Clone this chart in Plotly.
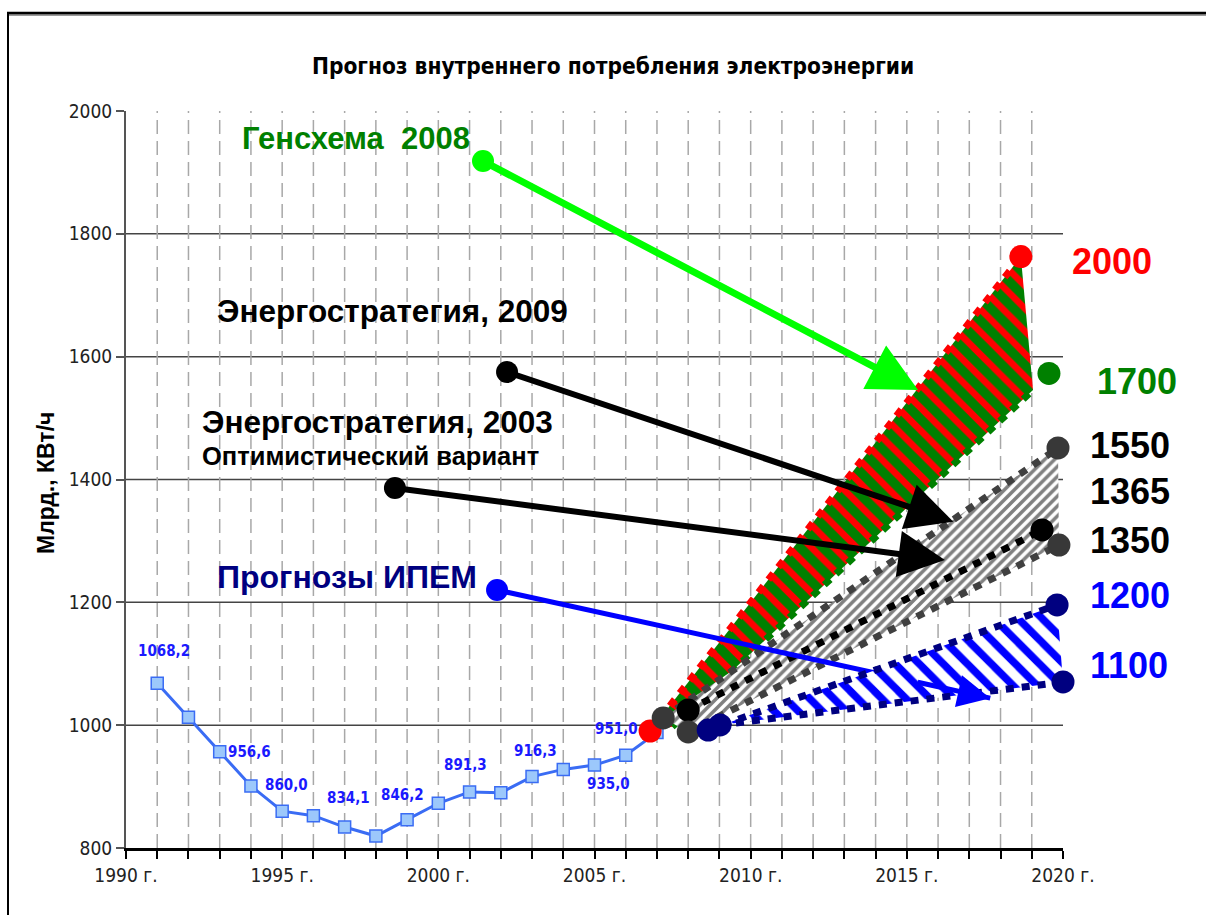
import plotly.graph_objects as go

# ---------------- data ----------------
hist_years = list(range(1991, 2008))
hist_values = [1068.2, 1012.8, 956.6, 901.0, 860.0, 852.6, 834.1, 819.5, 846.2,
               872.8, 891.3, 890.0, 916.3, 928.0, 935.0, 951.0, 988.0]
hist_labels = ["1068,2", "", "956,6", "", "860,0", "", "834,1", "", "846,2",
               "", "891,3", "", "916,3", "", "935,0", "951,0", ""]

# forecast fan: start year, start value, end year, end value
fc_names = ["red", "green", "gray_up", "black", "gray_low", "navy_up", "navy_low"]
fc_x0 = [2006.78, 2007.49, 2007.20, 2008.00, 2008.00, 2008.64, 2009.02]
fc_y0 = [990.5, 997.5, 1011.7, 1024.7, 988.9, 992.1, 1000.3]
fc_x1 = [2018.65, 2019.04, 2019.84, 2019.33, 2019.87, 2019.81, 2020.0]
fc_y1 = [1763.0, 1545.7, 1451.3, 1317.8, 1293.3, 1195.7, 1070.3]
green_end_x, green_end_y = 2019.55, 1572.7

end_labels = ["2000", "1700", "1550", "1365", "1350", "1200", "1100"]

# arrows: start (dot) -> tip
arrow_names = ["Генсхема 2008", "Энергостратегия 2009", "Энергостратегия 2003", "ИПЕМ"]
arrow_x0 = [2001.43, 2002.20, 1998.61, 2001.88]
arrow_y0 = [1918.6, 1575.0, 1386.2, 1220.1]
arrow_x1 = [2015.36, 2016.49, 2016.22, 2017.67]
arrow_y1 = [1545.7, 1331.3, 1268.9, 1044.0]

y_ticks = [800, 1000, 1200, 1400, 1600, 1800, 2000]

# ---------------- geometry helpers (pixel -> paper) ----------------
W, H = 1206, 915
L, T, PW, PH = 126, 111, 937, 737
R, B = W - L - PW, H - T - PH


def pxx(x):
    return (x - L) / PW


def pxy(y):
    return (T + PH - y) / PH


NARROW = "DejaVu Sans Condensed, Liberation Sans Narrow, Arial Narrow, sans-serif"
ARIAL = "Liberation Sans, Arial, sans-serif"

fig = go.Figure()

# historical series
fig.add_trace(go.Scatter(
    x=hist_years, y=hist_values, mode="lines+markers",
    line=dict(color="#3a6cf4", width=3),
    marker=dict(symbol="square", size=12, color="#9cc8fb",
                line=dict(color="#3a6cf4", width=1.5)),
    showlegend=False, hoverinfo="skip"))


def seg(i):
    return [fc_x0[i], fc_x1[i]], [fc_y0[i], fc_y1[i]]


def poly(a, b):
    xs = [fc_x0[a], fc_x1[a], fc_x1[b], fc_x0[b], fc_x0[a]]
    ys = [fc_y0[a], fc_y1[a], fc_y1[b], fc_y0[b], fc_y0[a]]
    return xs, ys


DOT = "8px,8px"

# red/green hatched area
xs, ys = poly(0, 1)
fig.add_trace(go.Scatter(x=xs, y=ys, mode="lines", fill="toself",
                         line=dict(width=0, color="rgba(0,0,0,0)"),
                         fillcolor="#008000",
                         fillpattern=dict(shape="\\", bgcolor="#008000", fgcolor="#ff0000",
                                          fgopacity=1, size=16, solidity=0.42),
                         showlegend=False, hoverinfo="skip"))
for i, col in [(0, "#ff0000"), (1, "#008000")]:
    sx, sy = seg(i)
    fig.add_trace(go.Scatter(x=sx, y=sy, mode="lines",
                             line=dict(color=col, width=7, dash=DOT),
                             showlegend=False, hoverinfo="skip"))

# gray hatched area
xs, ys = poly(2, 4)
fig.add_trace(go.Scatter(x=xs, y=ys, mode="lines", fill="toself",
                         line=dict(width=0, color="rgba(0,0,0,0)"),
                         fillcolor="white",
                         fillpattern=dict(shape="/", bgcolor="white", fgcolor="#808080",
                                          fgopacity=1, size=7, solidity=0.5),
                         showlegend=False, hoverinfo="skip"))
for i, col in [(2, "#404040"), (4, "#404040"), (3, "#000000")]:
    sx, sy = seg(i)
    fig.add_trace(go.Scatter(x=sx, y=sy, mode="lines",
                             line=dict(color=col, width=7, dash=DOT),
                             showlegend=False, hoverinfo="skip"))

# IPEM blue arrow line (under the blue hatched area)
fig.add_trace(go.Scatter(x=[arrow_x0[3], arrow_x1[3]], y=[arrow_y0[3], arrow_y1[3]],
                         mode="lines", line=dict(color="#0000ff", width=5),
                         showlegend=False, hoverinfo="skip"))

# blue hatched area
xs, ys = poly(5, 6)
fig.add_trace(go.Scatter(x=xs, y=ys, mode="lines", fill="toself",
                         line=dict(width=0, color="rgba(0,0,0,0)"),
                         fillcolor="white",
                         fillpattern=dict(shape="\\", bgcolor="white", fgcolor="#0000ff",
                                          fgopacity=1, size=17, solidity=0.45),
                         showlegend=False, hoverinfo="skip"))
for i in (5, 6):
    sx, sy = seg(i)
    fig.add_trace(go.Scatter(x=sx, y=sy, mode="lines",
                             line=dict(color="#000080", width=7, dash=DOT),
                             showlegend=False, hoverinfo="skip"))

# dots at fan start/end
start_cols = ["#ff0000", None, "#383838", "#000000", "#383838", "#000080", "#000080"]
end_cols = ["#ff0000", None, "#383838", "#000000", "#383838", "#000080", "#000080"]
dx, dy, dc = [], [], []
for i in range(len(fc_names)):
    if start_cols[i]:
        dx.append(fc_x0[i]); dy.append(fc_y0[i]); dc.append(start_cols[i])
    if end_cols[i]:
        dx.append(fc_x1[i]); dy.append(fc_y1[i]); dc.append(end_cols[i])
dx.append(green_end_x); dy.append(green_end_y); dc.append("#008000")
fig.add_trace(go.Scatter(x=dx, y=dy, mode="markers",
                         marker=dict(size=23, color=dc, line=dict(width=0)),
                         cliponaxis=False, showlegend=False, hoverinfo="skip"))

# arrow start dots
arrow_cols = ["#00ff00", "#000000", "#000000", "#0000ff"]
fig.add_trace(go.Scatter(x=arrow_x0, y=arrow_y0, mode="markers",
                         marker=dict(size=22, color=arrow_cols, line=dict(width=0)),
                         cliponaxis=False, showlegend=False, hoverinfo="skip"))

annotations = []
# arrows
arrow_widths = [7, 6, 6, 5]
arrow_sizes = [1.4, 1.55, 1.55, 1.3]
for i in range(4):
    if i == 3:
        tx = arrow_x0[i] + 0.85 * (arrow_x1[i] - arrow_x0[i])
        ty = arrow_y0[i] + 0.85 * (arrow_y1[i] - arrow_y0[i])
    else:
        tx, ty = arrow_x0[i], arrow_y0[i]
    annotations.append(dict(x=arrow_x1[i], y=arrow_y1[i], ax=tx, ay=ty,
                            xref="x", yref="y", axref="x", ayref="y",
                            text="", showarrow=True, arrowhead=2,
                            arrowsize=arrow_sizes[i], arrowwidth=arrow_widths[i],
                            arrowcolor=arrow_cols[i], standoff=0, startstandoff=0))

# data labels on the historical series
label_shift = {0: (7, 32), 2: (30, 0), 4: (4, 26), 6: (4, 29), 8: (-5, 25),
               10: (-4, 27), 12: (3, 26), 14: (14, -19), 15: (-9, 26)}
for i, txt in enumerate(hist_labels):
    if txt:
        sx, sy = label_shift[i]
        annotations.append(dict(x=hist_years[i], y=hist_values[i], xref="x", yref="y",
                                text="<b>%s</b>" % txt, showarrow=False, xshift=sx, yshift=sy,
                                font=dict(family=NARROW, size=15, color="#1a1aff"),
                                xanchor="center", yanchor="middle"))

# end labels of forecasts
end_label_px = [(1070, 261), (1095, 381), (1088, 445), (1088, 491), (1088, 540), (1088, 595), (1088, 665)]
end_label_cols = ["#ff0000", "#008000", "#000000", "#000000", "#000000", "#0000ff", "#0000ff"]
for txt, (lx, ly), col in zip(end_labels, end_label_px, end_label_cols):
    annotations.append(dict(x=pxx(lx), y=pxy(ly), xref="paper", yref="paper",
                            text="<b>%s</b>" % txt, showarrow=False,
                            xanchor="left", yanchor="middle",
                            font=dict(family=ARIAL, size=36, color=col)))

# left captions
captions = [
    ("Генсхема \u00a02008", 240, 138, 31, "#008000"),
    ("Энергостратегия, 2009", 215, 311, 31.5, "#000000"),
    ("Энергостратегия, 2003", 200, 422, 31.5, "#000000"),
    ("Оптимистический вариант", 200, 456, 25.5, "#000000"),
    ("Прогнозы ИПЕМ", 215, 577, 32, "#000080"),
]
for txt, lx, ly, sz, col in captions:
    annotations.append(dict(x=pxx(lx), y=pxy(ly), xref="paper", yref="paper",
                            text="<b>%s</b>" % txt, showarrow=False,
                            xanchor="left", yanchor="middle",
                            font=dict(family=ARIAL, size=sz, color=col)))

# title
annotations.append(dict(x=pxx(613), y=pxy(66), xref="paper", yref="paper",
                        text="<b>Прогноз внутреннего потребления электроэнергии</b>",
                        showarrow=False, xanchor="center", yanchor="middle",
                        font=dict(family=NARROW, size=22.5, color="#000000")))
# y-axis title
annotations.append(dict(x=pxx(46), y=pxy(483), xref="paper", yref="paper",
                        text="<b>Млрд., КВт/ч</b>", showarrow=False, textangle=-90,
                        xanchor="center", yanchor="middle",
                        font=dict(family=ARIAL, size=23, color="#000000")))

# grid lines and frame as shapes
shapes = []
for yr in range(1991, 2020):
    shapes.append(dict(type="line", xref="x", yref="y", x0=yr, x1=yr, y0=800, y1=2000,
                       line=dict(color="#a8a8a8", width=1.5, dash="14px,7px"), layer="below"))
for v in y_ticks[1:-1]:
    shapes.append(dict(type="line", xref="paper", yref="y", x0=0, x1=1, y0=v, y1=v,
                       line=dict(color="#444444", width=1.5), layer="below"))
# outer frame (top and left)
shapes.append(dict(type="line", xref="paper", yref="paper", x0=pxx(7), x1=pxx(1210),
                   y0=pxy(15), y1=pxy(15), line=dict(color="#9a9a9a", width=2)))
shapes.append(dict(type="line", xref="paper", yref="paper", x0=pxx(7), x1=pxx(1210),
                   y0=pxy(13), y1=pxy(13), line=dict(color="#000000", width=2.5)))
shapes.append(dict(type="line", xref="paper", yref="paper", x0=pxx(8), x1=pxx(8),
                   y0=pxy(12), y1=pxy(920), line=dict(color="#000000", width=2)))

fig.update_layout(
    width=W, height=H,
    margin=dict(l=L, r=R, t=T, b=B, pad=0),
    paper_bgcolor="white", plot_bgcolor="white",
    showlegend=False,
    annotations=annotations,
    shapes=shapes,
    xaxis=dict(range=[1990, 2020], tickmode="linear", tick0=1990, dtick=5,
               ticksuffix=" г.", showgrid=False, zeroline=False,
               showline=True, linecolor="#000000", linewidth=2.5,
               ticks="outside", ticklen=8, tickcolor="#000000", tickwidth=1.5,
               minor=dict(tickmode="linear", tick0=1990, dtick=1, ticks="outside",
                          ticklen=8, tickcolor="#000000", tickwidth=1.5, showgrid=False),
               tickfont=dict(family=NARROW, size=19, color="#222222")),
    yaxis=dict(range=[800, 2000], tickmode="array", tickvals=y_ticks,
               showgrid=False, zeroline=False,
               showline=True, linecolor="#555555", linewidth=2,
               ticks="outside", ticklen=8, tickcolor="#555555", tickwidth=1.5,
               tickfont=dict(family=NARROW, size=19, color="#222222")),
)

fig.write_html("out.html")
